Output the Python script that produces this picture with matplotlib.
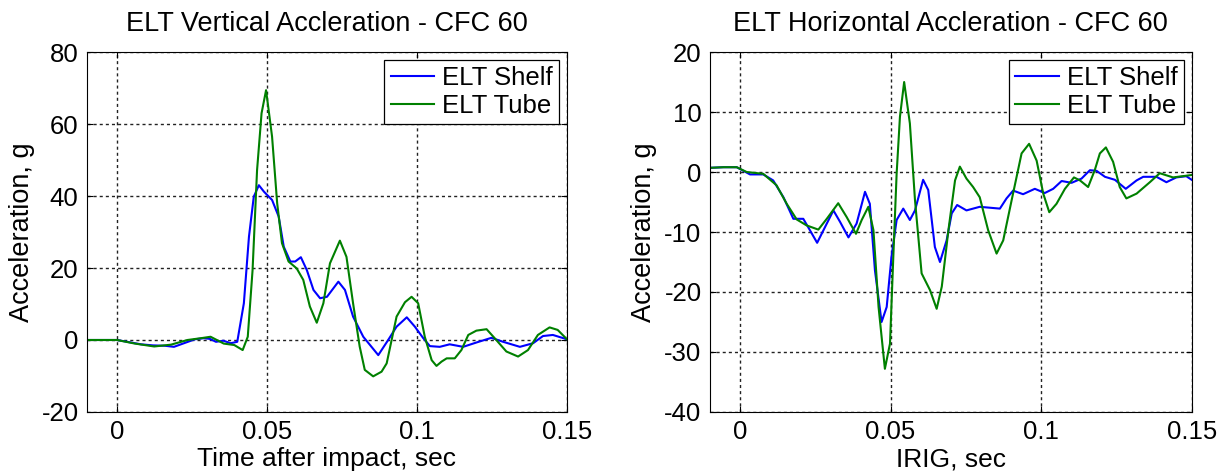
import numpy as np
import matplotlib
matplotlib.use('Agg')
import matplotlib.pyplot as plt

plt.rcParams['font.family'] = ['Liberation Sans', 'DejaVu Sans']
plt.rcParams['axes.unicode_minus'] = False

# vertical, shelf
v_shelf_t = [-0.01, 0.0, 0.004, 0.008, 0.012, 0.016, 0.019, 0.022, 0.026, 0.029, 0.031, 0.033,
             0.0355, 0.0379, 0.0401, 0.0423, 0.044, 0.0456, 0.0473, 0.049, 0.0517, 0.0539,
             0.0556, 0.0578, 0.0594, 0.0613, 0.0633, 0.0655, 0.0677, 0.07, 0.0738, 0.076,
             0.0787, 0.0821, 0.0871, 0.0904, 0.0932, 0.0966, 0.0993, 0.1021, 0.1043, 0.1076,
             0.1109, 0.1154, 0.1198, 0.1248, 0.1287, 0.1343, 0.1387, 0.142, 0.1453, 0.15]
v_shelf_a = [0.0, 0.0, -0.6, -1.2, -1.5, -1.6, -1.9, -1.0, 0.2, 0.5, 0.3, -0.5,
             -0.2, -0.9, -0.5, 10.2, 28.7, 39.8, 43.0, 41.2, 38.9, 34.3,
             25.9, 21.8, 21.8, 23.0, 19.4, 13.9, 11.6, 12.0, 16.2, 13.9,
             6.5, 0.9, -4.2, 0.0, 3.7, 6.3, 3.7, 0.5, -1.7, -1.9,
             -1.2, -1.9, -0.7, 0.6, -0.5, -1.9, -0.9, 1.1, 1.4, 0.2]

# vertical, tube
v_tube_t = [-0.01, 0.0, 0.006, 0.0124, 0.018, 0.0235, 0.028, 0.0312, 0.0356, 0.0391, 0.0419,
            0.0436, 0.0452, 0.0467, 0.0482, 0.0497, 0.0517, 0.0534, 0.055, 0.0572, 0.0599,
            0.0621, 0.0643, 0.0666, 0.0688, 0.071, 0.0743, 0.0765, 0.0787, 0.0809, 0.0826,
            0.0854, 0.0882, 0.0899, 0.0932, 0.096, 0.0982, 0.1004, 0.1026, 0.1049, 0.1065,
            0.1082, 0.1099, 0.1126, 0.1148, 0.1171, 0.1198, 0.1232, 0.1259, 0.1298, 0.1337,
            0.137, 0.1403, 0.1442, 0.1469, 0.15]
v_tube_a = [0.0, 0.0, -1.0, -1.8, -1.3, 0.0, 0.5, 0.9, -1.0, -1.4, -2.8,
            0.9, 19.4, 47.2, 63.0, 69.4, 56.5, 38.0, 26.9, 21.8, 19.9,
            16.7, 9.3, 4.8, 10.2, 21.3, 27.6, 23.1, 10.2, -1.8, -8.3,
            -10.1, -8.8, -6.5, 6.5, 10.5, 12.0, 10.2, 0.9, -5.6, -7.2,
            -6.0, -5.1, -5.1, -2.8, 1.4, 2.6, 3.0, 0.5, -3.2, -4.6,
            -2.8, 1.4, 3.5, 2.8, 0.2]

# horizontal, shelf
h_shelf_t = [-0.01, -0.0055, -0.0011, 0.0033, 0.0077, 0.011, 0.0144, 0.0177, 0.021, 0.0232,
             0.0256, 0.0282, 0.031, 0.0332, 0.036, 0.0387, 0.0415, 0.0431, 0.0448, 0.047,
             0.0487, 0.0503, 0.052, 0.0542, 0.0564, 0.0581, 0.0608, 0.0625, 0.0647, 0.0664,
             0.0686, 0.0703, 0.0721, 0.0752, 0.0796, 0.0863, 0.0885, 0.0907, 0.094, 0.0979,
             0.1012, 0.104, 0.1068, 0.1101, 0.1134, 0.1162, 0.1184, 0.1212, 0.1245, 0.1281,
             0.1317, 0.1339, 0.1383, 0.1416, 0.1449, 0.1482, 0.15]
h_shelf_a = [0.7, 0.8, 0.8, -0.4, -0.4, -1.4, -4.2, -7.8, -7.8, -9.7,
             -11.8, -9.2, -6.4, -8.3, -10.9, -8.6, -3.3, -5.3, -16.4, -25.0,
             -22.5, -14.1, -8.0, -6.1, -8.0, -6.4, -1.3, -3.0, -12.5, -15.0,
             -11.4, -6.9, -5.5, -6.4, -5.8, -6.1, -4.4, -3.1, -3.7, -2.8,
             -3.5, -2.8, -1.5, -1.8, -1.1, 0.3, 0.2, -0.8, -1.3, -2.8,
             -1.4, -0.8, -0.8, -1.7, -0.9, -0.7, -1.3]

# horizontal, tube
h_tube_t = [-0.01, -0.0055, -0.0011, 0.0022, 0.0077, 0.0121, 0.0155, 0.0188, 0.0221, 0.026,
            0.0288, 0.0326, 0.0354, 0.0385, 0.0404, 0.0426, 0.0443, 0.046, 0.0481, 0.0498,
            0.0509, 0.052, 0.0531, 0.0545, 0.0564, 0.0581, 0.0603, 0.0631, 0.0653, 0.067,
            0.0692, 0.0714, 0.073, 0.0752, 0.0774, 0.0796, 0.0824, 0.0852, 0.0874, 0.0902,
            0.0935, 0.096, 0.0985, 0.1007, 0.1027, 0.1051, 0.1079, 0.1109, 0.1129, 0.1156,
            0.1178, 0.1195, 0.1215, 0.1239, 0.1261, 0.1283, 0.1317, 0.1361, 0.1394, 0.1438,
            0.15]
h_tube_a = [0.7, 0.8, 0.8, 0.0, -0.3, -2.2, -5.3, -7.9, -8.9, -9.6,
            -7.8, -5.2, -7.5, -10.3, -8.0, -5.8, -9.7, -22.5, -32.8, -28.6,
            -14.1, -0.3, 9.2, 15.0, 8.1, -4.7, -16.9, -19.7, -22.8, -19.1,
            -9.7, -1.4, 0.9, -1.1, -2.5, -4.2, -9.7, -13.6, -11.4, -4.7,
            3.1, 4.7, 1.9, -3.6, -6.7, -5.3, -2.8, -0.9, -1.4, -2.5,
            0.3, 3.1, 4.1, 1.7, -2.5, -4.4, -3.6, -1.7, -0.2, -0.9,
            -0.5]

fig = plt.figure(figsize=(12.23, 4.73), dpi=100)
ax1 = fig.add_axes([0.0711, 0.129, 0.3925, 0.761])
ax2 = fig.add_axes([0.5805, 0.129, 0.3939, 0.761])

panels = [
    (ax1, v_shelf_t, v_shelf_a, v_tube_t, v_tube_a, 'ELT Vertical Accleration - CFC 60',
     'Time after impact, sec', (-20, 80), [-20, 0, 20, 40, 60, 80]),
    (ax2, h_shelf_t, h_shelf_a, h_tube_t, h_tube_a, 'ELT Horizontal Accleration - CFC 60',
     'IRIG, sec', (-40, 20), [-40, -30, -20, -10, 0, 10, 20]),
]

for ax, st, sa, tt, ta, title, xlab, ylim, yticks in panels:
    ax.plot(st, sa, color='#0000ff', lw=1.5, label='ELT Shelf', solid_joinstyle='round')
    ax.plot(tt, ta, color='#008000', lw=1.5, label='ELT Tube', solid_joinstyle='round')
    ax.set_xlim(-0.01, 0.15)
    ax.set_ylim(*ylim)
    ax.set_xticks([0, 0.05, 0.1, 0.15])
    ax.set_xticklabels(['0', '0.05', '0.1', '0.15'])
    ax.set_yticks(yticks)
    ax.grid(True, color='#222222', linestyle=(0, (2.2, 2.2)), linewidth=1.0)
    ax.tick_params(direction='in', top=True, right=True, labelsize=18.5, length=4, pad=6)
    for s in ax.spines.values():
        s.set_linewidth(0.8)
    ax.set_title(title, fontsize=19.5, pad=15)
    ax.set_xlabel(xlab, fontsize=19, labelpad=2)
    ax.set_ylabel('Acceleration, g', fontsize=19.5, labelpad=5)
    leg = ax.legend(loc='upper right', fontsize=18.5, fancybox=False, framealpha=1,
                    edgecolor='black', handlelength=1.7, handletextpad=0.3,
                    borderaxespad=0.3, borderpad=0.25, labelspacing=0.15)
    leg.get_frame().set_linewidth(0.9)

fig.savefig('out.png', dpi=100)
